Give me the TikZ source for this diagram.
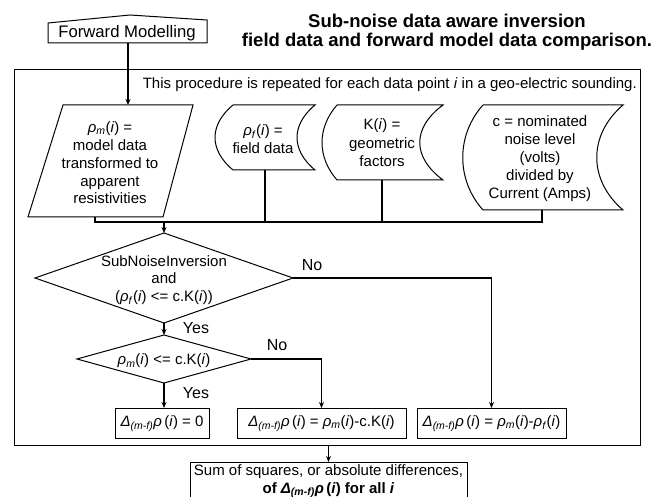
\documentclass[tikz,border=0pt]{standalone}
\usepackage{fontspec}
\setmainfont{Liberation Sans}
\usetikzlibrary{arrows.meta,calc}

% notation helpers
\newcommand{\vi}{\textit{i}}
\newcommand{\rhosub}[1]{\textit{ρ}\textsubscript{\textit{#1}}}
\newcommand{\dmf}{\textit{Δ}\textsubscript{\textit{(m-f)}}\textit{ρ}\,}

\begin{document}
\begin{tikzpicture}[x=1pt,y=-1pt,
  shapeline/.style={draw=black,line width=1pt},
  link/.style={draw=black,line width=1.8pt},
  arrowlink/.style={link,-{Stealth[length=6pt,width=5pt]}},
  txt/.style={font=\fontsize{15}{18}\selectfont,align=center,inner sep=0pt},
  lbl/.style={font=\fontsize{16}{18}\selectfont,inner sep=0pt},
  resultbox/.style={shapeline,font=\fontsize{15}{18}\selectfont,inner sep=0pt,
    minimum height=30pt,anchor=north}]

\useasboundingbox (0,0) rectangle (670,497);

% title
\node[font=\bfseries\fontsize{18.5}{19}\selectfont,align=center,inner sep=0pt]
  (title) at (447,32) {Sub-noise data aware inversion\\field data and forward model data comparison.};

% forward modelling (manual input shape)
\draw[shapeline] (48,23) -- (130,15) -- (207,20) -- (207,43) -- (48,43) -- cycle;
\node[font=\fontsize{16.7}{19}\selectfont,inner sep=0pt] (fm) at (127,33) {Forward Modelling};
\coordinate (fm-s) at (128,43);

% enclosing frame
\node[shapeline,minimum width=626pt,minimum height=375pt,inner sep=0pt] (frame) at (327,257.5) {};
\node[txt,anchor=east] (note) at (637,85)
  {This procedure is repeated for each data point \vi{} in a geo-electric sounding.};

% model data (parallelogram)
\draw[shapeline] (63,105) -- (193,105) -- (163,217) -- (28,217) -- cycle;
\node[txt,font=\fontsize{15}{17.8}\selectfont] (model) at (110,163)
  {\rhosub{m}(\vi) =\\model data\\transformed to\\apparent\\resistivities};
\coordinate (model-n) at (128,105);
\coordinate (model-s) at (95,217);

% stored data: field data
\draw[shapeline] (233,105) -- (315,105) .. controls (291,125) and (291,150) .. (315,170)
  -- (233,170) .. controls (209,150) and (209,125) .. (233,105);
\node[txt] (field) at (263,139) {\rhosub{f}(\vi) =\\field data};
\coordinate (field-s) at (265,170);

% stored data: geometric factors
\draw[shapeline] (337,105) -- (443,105) .. controls (412,128) and (412,157) .. (443,180)
  -- (337,180) .. controls (317,157) and (317,128) .. (337,105);
\node[txt,font=\fontsize{15}{18.5}\selectfont] (geom) at (382,143) {K(\vi) =\\geometric\\factors};
\coordinate (geom-s) at (382,180);

% stored data: noise level
\draw[shapeline] (483,105) -- (623,105) .. controls (588,135) and (588,180) .. (623,210)
  -- (483,210) .. controls (456,180) and (456,135) .. (483,105);
\node[txt] (noise) at (540,159)
  {c = nominated\\noise level\\(volts)\\divided by\\Current (Amps)};
\coordinate (noise-s) at (542,210);

\draw[arrowlink] (fm-s) -- (model-n);

% collecting line
\coordinate (bus) at (164,222);
\draw[link] (model-s) |- (noise-s |- bus) -- (noise-s);
\draw[link] (field-s) -- (field-s |- bus);
\draw[link] (geom-s) -- (geom-s |- bus);

% first decision
\coordinate (d1-n) at (164,233);
\coordinate (d1-e) at (293,278);
\coordinate (d1-s) at (164,323);
\coordinate (d1-w) at (35,278);
\draw[shapeline] (d1-n) -- (d1-e) -- (d1-s) -- (d1-w) -- cycle;
\node[txt,font=\fontsize{15}{17.5}\selectfont] (q1) at (164,280)
  {SubNoiseInversion\\and\\(\rhosub{f}(\vi) <= c.K(\vi))};

% second decision
\coordinate (d2-n) at (164,335);
\coordinate (d2-e) at (251,359);
\coordinate (d2-s) at (164,383);
\coordinate (d2-w) at (77,359);
\draw[shapeline] (d2-n) -- (d2-e) -- (d2-s) -- (d2-w) -- cycle;
\node[txt] (q2) at (164,361) {\rhosub{m}(\vi) <= c.K(\vi)};

\draw[arrowlink] (bus) -- (d1-n);
\draw[arrowlink] (d1-s) -- (d2-n);

% results
\node[resultbox,minimum width=94pt] (r1) at (162,408) {\dmf(\vi) = 0};
\node[resultbox,minimum width=169pt] (r2) at (321.5,408) {\dmf(\vi) = \rhosub{m}(\vi)-c.K(\vi)};
\node[resultbox,minimum width=149pt] (r3) at (491.5,408) {\dmf(\vi) = \rhosub{m}(\vi)-\rhosub{f}(\vi)};

\draw[arrowlink] (d2-s) -- (d2-s |- r1.north);
\draw[arrowlink] (d2-e) -| (r2.north);
\draw[arrowlink] (d1-e) -| (r3.north);

\node[lbl] (yes1) at (196,328) {Yes};
\node[lbl] (no1) at (312,265) {No};
\node[lbl] (yes2) at (196,393) {Yes};
\node[lbl] (no2) at (277,345) {No};

% summary
\node[shapeline,minimum width=277pt,minimum height=50pt,inner sep=0pt,anchor=north] (sum) at (328.5,462) {};
\node[txt] (sumtext) at (328.5,481)
  {Sum of squares, or absolute differences,\\\textbf{of \dmf(\textit{i}) for all \textit{i}}};
\draw[arrowlink] (frame.south -| sum.north) -- (sum.north);

\end{tikzpicture}
\end{document}
